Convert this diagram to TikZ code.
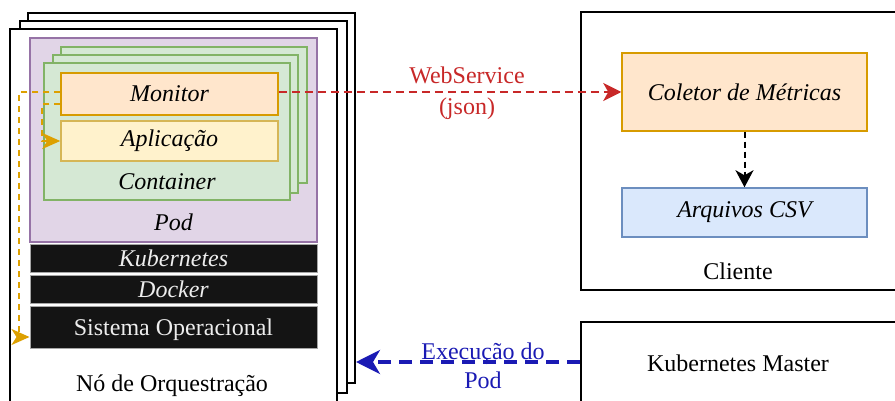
\documentclass[tikz,border=0pt]{standalone}
\usepackage{fontspec}
\setmainfont{Liberation Serif}[Ligatures=TeX]
\newfontfamily\tms{Liberation Serif}
\usetikzlibrary{arrows.meta,calc}
\definecolor{podfill}{HTML}{E1D5E7}
\definecolor{poddraw}{HTML}{9673A6}
\definecolor{cfill}{HTML}{D5E8D4}
\definecolor{cdraw}{HTML}{82B366}
\definecolor{ofill}{HTML}{FFE6CC}
\definecolor{odraw}{HTML}{D79B00}
\definecolor{yfill}{HTML}{FFF2CC}
\definecolor{ydraw}{HTML}{D6B656}
\definecolor{bfill}{HTML}{DAE8FC}
\definecolor{bdraw}{HTML}{6C8EBF}
\definecolor{darkbox}{HTML}{141414}
\definecolor{redline}{HTML}{C82828}
\definecolor{blueline}{HTML}{1A1AB4}
\definecolor{yline}{HTML}{DDA000}
\begin{document}
\begin{tikzpicture}[x=1pt,y=-1pt,
  font=\tms\fontsize{24}{28}\selectfont,
  itfont/.style={font=\tms\fontsize{24}{28}\selectfont\itshape},
  rbox/.style 2 args={rectangle, inner sep=0pt, minimum width=#1pt, minimum height=#2pt},
  node/.style={rbox={327}{#1}, draw=black, fill=white, line width=2pt},
  podbox/.style={rbox={287}{204}, draw=poddraw, fill=podfill, line width=1.5pt},
  contbox/.style 2 args={rbox={#1}{#2}, draw=cdraw, fill=cfill, line width=1.5pt},
  monbox/.style={draw=odraw, fill=ofill, line width=1.5pt, itfont},
  appbox/.style={rbox={217}{40}, draw=ydraw, fill=yfill, line width=1.5pt, itfont},
  layer/.style={rbox={287}{#1}, draw=gray!70, fill=darkbox, line width=1pt, text=white!93!black},
  csvbox/.style={rbox={245}{49}, draw=bdraw, fill=bfill, line width=1.5pt, itfont},
  plainbox/.style 2 args={rbox={#1}{#2}, draw=black, fill=white, line width=2pt},
  label/.style={inner sep=0pt, align=center},
  yarrow/.style={draw=yline, line width=2pt, dash pattern=on 6pt off 5pt, -{Stealth[length=18pt,width=16pt,inset=5pt]}, yline},
  rarrow/.style={draw=redline, line width=2pt, dash pattern=on 8pt off 5pt, -{Stealth[length=18pt,width=18pt,inset=5pt]}},
  karrow/.style={draw=black, line width=2pt, dash pattern=on 6pt off 4pt, -{Stealth[length=17pt,width=18pt,inset=5pt]}},
  barrow/.style={draw=blueline, line width=3.5pt, dash pattern=on 13pt off 8pt, -{Stealth[length=24pt,width=24pt,inset=7pt]}},
]
\clip (0,0) rectangle (895,401);
\fill[white] (0,0) rectangle (895,401);

% orchestration node stack
\node[node=370] (back) at (191.5,198) {};
\node[node=372] (mid) at (183.5,207) {};
\node[node=383] (front) at (173.5,220.5) {};

% pod
\node[podbox] (pod) at (173.5,140) {};
\node[contbox={246}{136}] (cont3) at (184,115) {};
\node[contbox={245}{138}] (cont2) at (175.5,124) {};
\node[contbox={246}{137}] (cont1) at (167,131.5) {};
\node[monbox, rbox={217}{42}] (monitor) at (169.5,94) {Monitor};
\node[appbox] (aplic) at (169.5,141) {Aplicação};
\node[label, itfont] (contlbl) at (167,182) {Container};
\node[label, itfont] (podlbl) at (173.5,222) {Pod};

% layers
\node[layer=28, itfont] (kube) at (173.5,258) {Kubernetes};
\node[layer=28, itfont] (docker) at (173.5,289) {Docker};
\node[layer=42, text depth=0pt] (so) at (173.5,327) {Sistema Operacional};
\node[label] (nolbl) at (172,386) {Nó de Orquestração};

% client
\node[plainbox={319}{278}] (cliente) at (740.5,151) {};
\node[monbox, rbox={245}{78}] (coletor) at (744.5,92) {Coletor de Métricas};
\node[csvbox] (csv) at (744.5,212.5) {Arquivos CSV};
\node[label] (clientelbl) at (738,271) {Cliente};

% master
\node[plainbox={319}{98}] (master) at (740.5,371) {};
\node[label] (masterlbl) at (738,363) {Kubernetes Master};

% connectors
\draw[yarrow] ([yshift=2pt]monitor.west) -- ++(-41,0) |- ([yshift=-10pt]so.west);
\draw[yarrow] ([yshift=-10pt]monitor.west) -- ++(-18,0) |- (aplic.west);
\draw[rarrow] ([yshift=2pt]monitor.east) -- (coletor.west);
\node[label, text=redline, font=\tms\fontsize{24}{31}\selectfont] (wslbl) at (467,93) {WebService\\(json)};
\draw[karrow] (coletor.south) -- (csv.north);
\draw[barrow] ([yshift=9pt]master.west) -- ([yshift=9pt]master.west -| back.east);
\node[label, text=blueline, font=\tms\fontsize{24}{29}\selectfont] (execlbl) at (483,366) {Execução do\\Pod};
\end{tikzpicture}
\end{document}
